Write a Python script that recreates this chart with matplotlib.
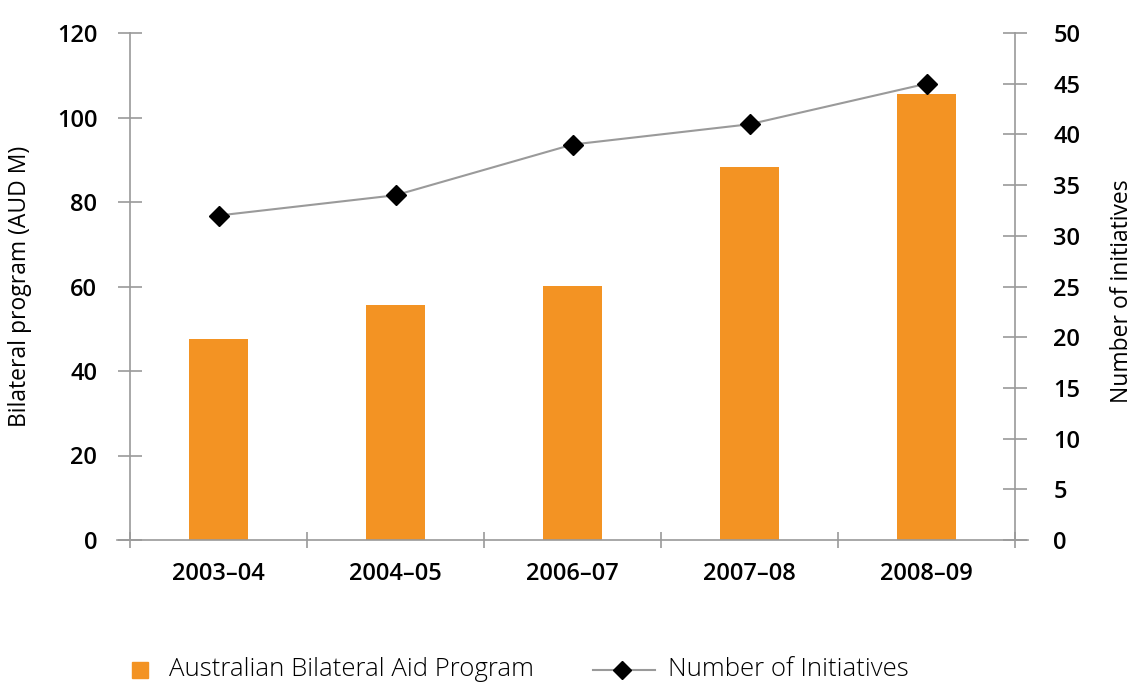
import matplotlib.pyplot as plt
from matplotlib.lines import Line2D

years = ["2003\u201304", "2004\u201305", "2006\u201307", "2007\u201308", "2008\u201309"]
bilateral_aud_m = [47.5, 55.6, 60.1, 88.3, 105.6]
initiatives = [32, 34, 39, 41, 45]

orange = "#F39323"
axis_grey = "#9a9a9a"

plt.rcParams["font.family"] = ["Open Sans", "DejaVu Sans"]

W, H = 1133, 683
fig = plt.figure(figsize=(W / 100, H / 100), dpi=100)
ax1 = fig.add_axes([130 / W, 1 - 540 / H, 885 / W, 507 / H])

x = list(range(len(years)))
ax1.bar(x, bilateral_aud_m, width=0.333, color=orange, zorder=2)
ax1.set_xlim(-0.5, len(years) - 0.5)
ax1.set_ylim(0, 120)
ax1.set_yticks(range(0, 121, 20))

# category boundaries get the tick marks, labels sit between them
ax1.set_xticks([i - 0.5 for i in range(len(years) + 1)])
ax1.set_xticklabels([])
ax1.set_xticks(x, minor=True)
ax1.set_xticklabels(years, minor=True, fontsize=17, fontweight="semibold")
ax1.tick_params(axis="x", which="minor", length=0, pad=16)
ax1.tick_params(axis="x", which="major", direction="inout", length=12,
                color=axis_grey, width=1.2)
ax1.tick_params(axis="y", direction="inout", length=17, color=axis_grey,
                width=1.2, labelsize=17, pad=15)
for lbl in ax1.get_yticklabels():
    lbl.set_fontweight("semibold")

for side in ["top", "right"]:
    ax1.spines[side].set_visible(False)
ax1.spines["left"].set_color(axis_grey)
ax1.spines["left"].set_linewidth(1.2)
ax1.spines["bottom"].set_visible(False)
ax1.add_line(Line2D([-0.015, 1.015], [0, 0], transform=ax1.transAxes,
                    color=axis_grey, lw=1.2, clip_on=False, zorder=3))
ax1.set_ylabel("Bilateral program (AUD M)", fontsize=16.5)
ax1.yaxis.set_label_coords(-0.124, 0.5)
ax1.yaxis.label.set_va("center")

ax2 = ax1.twinx()
ax2.plot(x, initiatives, color=axis_grey, lw=1.5, marker="D", markersize=10.5,
         markerfacecolor="black", markeredgecolor="black", zorder=4)
ax2.set_ylim(0, 50)
ax2.set_yticks(range(0, 51, 5))
ax2.tick_params(axis="y", direction="inout", length=17, color=axis_grey,
                width=1.2, labelsize=17, pad=19)
for lbl in ax2.get_yticklabels():
    lbl.set_fontweight("semibold")
for side in ["top", "left", "bottom"]:
    ax2.spines[side].set_visible(False)
ax2.spines["right"].set_color(axis_grey)
ax2.spines["right"].set_linewidth(1.2)
ax2.set_ylabel("Number of initiatives", fontsize=16.5)
ax2.yaxis.set_label_coords(1.121, 0.49)
ax2.yaxis.label.set_va("center")

# legend row along the bottom edge
ly = 1 - 670 / H
fig.add_artist(Line2D([140 / W], [ly], linestyle="none", marker="s",
                      markersize=11, markerfacecolor=orange,
                      markeredgecolor=orange, transform=fig.transFigure))
fig.text(169 / W, ly, "Australian Bilateral Aid Program", fontsize=18.5,
         fontweight="light", va="center", ha="left")
fig.add_artist(Line2D([593 / W, 655 / W], [ly, ly], color=axis_grey, lw=1.5,
                      transform=fig.transFigure))
fig.add_artist(Line2D([622 / W], [ly], linestyle="none", marker="D",
                      markersize=9, markerfacecolor="black",
                      markeredgecolor="black", transform=fig.transFigure))
fig.text(668 / W, ly, "Number of Initiatives", fontsize=18.5,
         fontweight="light", va="center", ha="left")

fig.savefig("out.png", dpi=100)
